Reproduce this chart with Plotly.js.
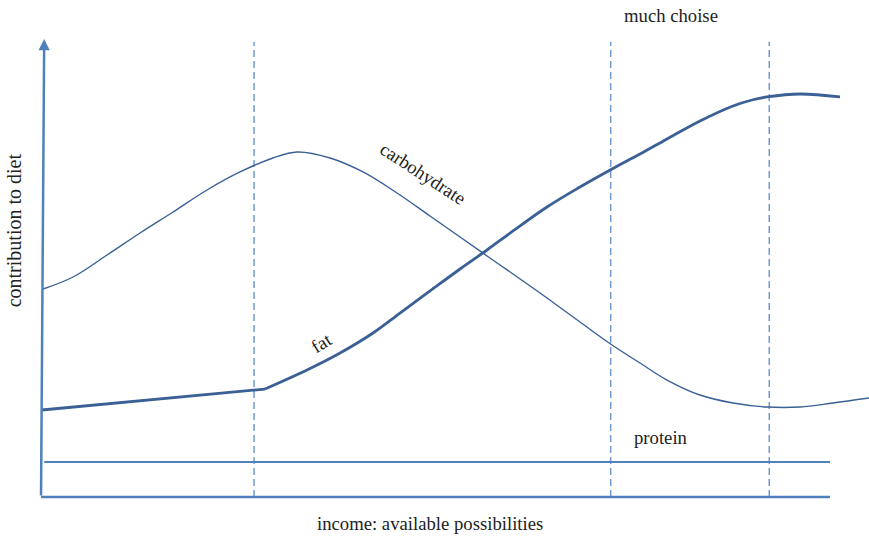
<!DOCTYPE html>
<html>
<head>
<meta charset="utf-8">
<script src="https://cdn.plot.ly/plotly-3.0.1.min.js"></script>
<style>html,body{margin:0;padding:0;background:#fff;}#chart{width:869px;height:536px;}</style>
</head>
<body>
<div id="chart"></div>
<script>
// Income (x, 0-100) and contribution to diet (y, 0-100)
const carbX = [0.25, 4.06, 8.37, 12.55, 16.73, 21.04, 25.22, 29.40, 32.45, 36.63, 40.81, 45.12, 49.30, 53.11, 56.53, 59.82, 64.13, 68.31, 72.37, 75.92, 79.34, 83.52, 87.71, 92.02, 96.20, 100.38, 104.94];
const carbY = [45.51, 48.14, 52.95, 57.77, 62.36, 67.18, 71.12, 74.18, 75.49, 74.18, 71.12, 66.52, 61.49, 56.89, 52.74, 48.80, 43.54, 38.29, 33.26, 29.32, 25.60, 22.32, 20.57, 19.69, 19.69, 20.57, 21.66];
const fatX = [0.1, 26.87, 28.39, 33.71, 37.90, 42.08, 45.50, 49.30, 53.11, 56.53, 59.82, 64.13, 68.31, 72.37, 75.92, 79.34, 83.52, 87.71, 90.11, 92.02, 96.20, 101.27];
const fatY = [19.04, 23.41, 23.63, 27.79, 31.51, 35.89, 40.26, 45.08, 49.89, 54.05, 58.21, 63.46, 67.83, 71.77, 75.05, 78.34, 82.28, 85.56, 86.87, 87.53, 88.18, 87.53];
const fatKink = 2;                 // index where the straight part ends and the curve begins
const proteinX = [0.4, 100];
const proteinY = [7.66, 7.66];
const stageX = [27, 72.2, 92.3];   // dashed dividers
const stageTop = 99.6;
const axisX = [0, 100];
const axisYTop = 100.2;

const labels = {
  carb: "carbohydrate", fat: "fat", protein: "protein",
  choice: "much choise", xTitle: "income: available possibilities", yTitle: "contribution to diet"
};

const curveColor = "#3a6096";
const axisColor = "#4f81bd";
const dashColor = "#6f9bd2";
const serif = "Liberation Serif, Times New Roman, serif";
const textFont = {family: serif, size: 18.7, color: "#222"};

const traces = [];
stageX.forEach(v => traces.push({
  x: [v, v], y: [0, stageTop], mode: "lines", hoverinfo: "skip",
  line: {color: dashColor, width: 1.5, dash: "7px,4px"}
}));
traces.push({x: axisX, y: [0, 0], mode: "lines", line: {color: axisColor, width: 2.5}, hoverinfo: "skip"});
traces.push({x: proteinX, y: proteinY, mode: "lines", line: {color: axisColor, width: 2.2}, hoverinfo: "skip"});
traces.push({x: carbX, y: carbY, mode: "lines", line: {color: curveColor, width: 1.4, shape: "spline", smoothing: 1}, hoverinfo: "skip"});
traces.push({x: fatX.slice(0, fatKink + 1), y: fatY.slice(0, fatKink + 1), mode: "lines", line: {color: curveColor, width: 2.8}, hoverinfo: "skip"});
traces.push({x: fatX.slice(fatKink), y: fatY.slice(fatKink), mode: "lines", line: {color: curveColor, width: 2.8, shape: "spline", smoothing: 1}, hoverinfo: "skip"});

const annotations = [
  {x: 0.4, y: axisYTop, ax: 0, ay: 0, axref: "x", ayref: "y", xref: "x", yref: "y",
   showarrow: true, arrowhead: 2, arrowsize: 0.9, arrowwidth: 2.5, arrowcolor: axisColor, text: "", standoff: 0},
  {x: 48.4, y: 70.7, text: labels.carb, textangle: 33, showarrow: false, font: textFont},
  {x: 35.6, y: 33.9, text: labels.fat, textangle: -32, showarrow: false, font: textFont},
  {x: 78.6, y: 13.1, text: labels.protein, showarrow: false, font: textFont},
  {x: 79.8, y: 105.3, text: labels.choice, showarrow: false, font: textFont},
  {x: 49.3, y: -5.7, text: labels.xTitle, showarrow: false, font: textFont},
  {x: -3.4, y: 58.4, text: labels.yTitle, textangle: -90, showarrow: false, font: {family: serif, size: 20, color: "#222"}}
];

const layout = {
  width: 869, height: 536,
  margin: {l: 0, r: 0, t: 0, b: 0},
  paper_bgcolor: "#fff", plot_bgcolor: "#fff",
  showlegend: false,
  xaxis: {range: [-5.2, 104.94], visible: false, fixedrange: true},
  yaxis: {range: [-8.53, 108.75], visible: false, fixedrange: true},
  annotations: annotations
};

Plotly.newPlot("chart", traces, layout, {staticPlot: true});
</script>
</body>
</html>
